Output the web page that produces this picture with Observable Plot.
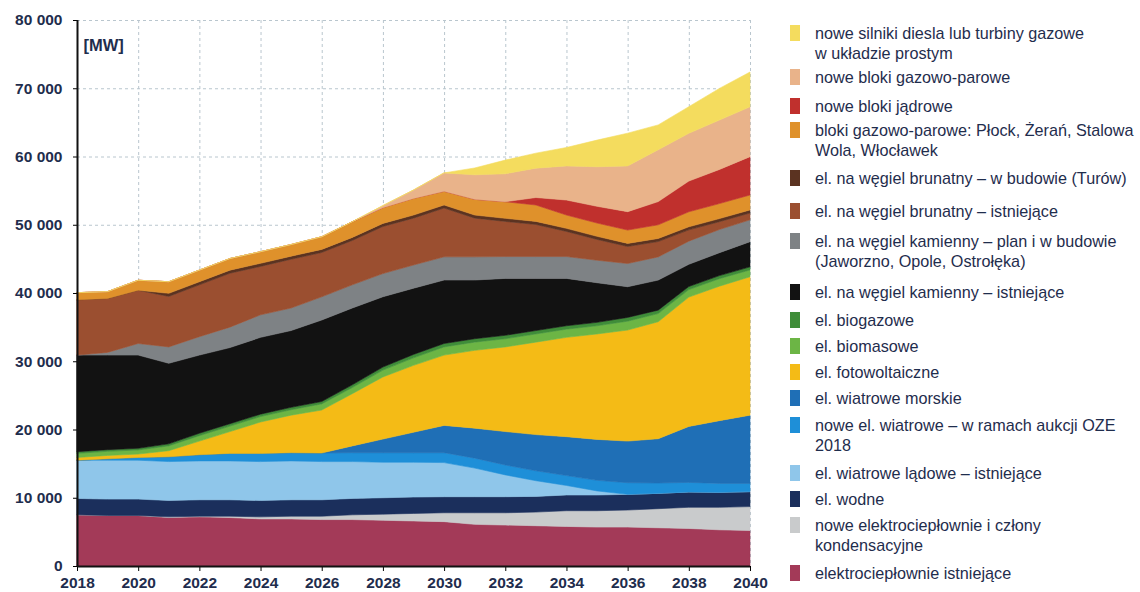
<!DOCTYPE html>
<html><head><meta charset="utf-8">
<script src="https://cdn.jsdelivr.net/npm/d3@7"></script>
<script src="https://cdn.jsdelivr.net/npm/@observablehq/plot@0.6"></script>
<style>
html,body{margin:0;padding:0;background:#fff;}
#wrap{position:relative;width:1140px;height:592px;font-family:"Liberation Sans",Arial,sans-serif;overflow:hidden;}
#chart{position:absolute;left:0;top:0;}
#legend{position:absolute;left:0;top:0;width:1140px;height:592px;color:#1f2d4d;font-size:16.2px;line-height:20px;}
.item{position:absolute;left:790px;display:flex;align-items:flex-start;}
.sw{width:10px;height:16px;flex:none;margin-top:2px;margin-right:15px;}
.lab{white-space:pre-line;}
</style></head><body>
<div id="wrap"><div id="chart"></div><div id="legend"></div></div>
<script>
// ---- data (MW), years 2018..2040 ----
const years = [2018,2019,2020,2021,2022,2023,2024,2025,2026,2027,2028,2029,2030,2031,2032,2033,2034,2035,2036,2037,2038,2039,2040];

const chpExisting = [7500,7400,7400,7100,7200,7100,6900,6900,6800,6800,6700,6600,6500,6100,6000,5900,5800,5700,5700,5600,5500,5300,5200];
const chpNew      = [0,0,0,100,100,200,300,400,500,700,900,1100,1300,1700,1800,2000,2300,2400,2500,2800,3100,3300,3500];
const hydro       = [2400,2400,2400,2400,2400,2400,2400,2400,2400,2400,2400,2400,2350,2350,2350,2300,2300,2300,2300,2250,2250,2200,2200];
const windOnshore = [5600,5700,5700,5700,5700,5700,5700,5700,5600,5400,5200,5100,5000,4200,3200,2300,1400,600,0,0,0,0,0];
const windAuction = [0,200,400,700,900,1100,1200,1200,1250,1300,1400,1400,1450,1450,1450,1450,1450,1550,1700,1500,1400,1300,1200];
const windOffshore= [0,0,0,0,0,0,0,0,0,1000,2000,3000,4000,4400,4900,5300,5700,6000,6100,6500,8200,9200,10000];
const solarPV     = [400,500,500,900,2000,3200,4600,5500,6300,7650,9100,9800,10300,11400,12400,13550,14550,15450,16270,17140,18950,19700,20280];
const biomass     = [600,600,600,700,800,800,800,800,900,900,1000,1100,1200,1200,1200,1200,1200,1200,1300,1200,1100,1100,1000];
const biogas      = [250,250,250,300,350,350,350,350,350,400,450,500,500,500,500,500,500,500,550,500,450,450,450];
const hardCoal    = [14150,13850,13650,11800,11450,11150,11250,11250,11940,11250,10300,9700,9300,8600,8340,7640,6940,5800,4500,4400,3250,3350,3690];
const hardCoalNew = [0,400,1700,2400,2700,3000,3300,3300,3400,3400,3400,3400,3400,3400,3200,3200,3200,3300,3400,3400,3400,3400,3200];
const lignite     = [8100,7900,7800,7400,7600,7900,7100,7150,6500,6500,6900,6870,7150,5670,5150,4700,3680,3050,2500,2250,1650,1150,1000];
const ligniteTurow= [0,0,0,450,450,450,450,450,450,450,450,450,450,450,450,450,450,450,450,450,450,450,450];
const ccgtExisting= [1050,1000,1470,1700,1700,1700,1700,1700,1850,2300,2300,2440,2000,2300,2430,2400,1950,1950,1950,2000,2200,2200,2190];
const nuclear     = [0,0,0,0,0,0,0,0,0,0,0,0,0,0,0,1100,2200,2450,2700,3400,4500,5000,5620];
const ccgtNew     = [0,0,0,0,0,0,0,0,0,0,300,1230,2700,3600,4100,4300,5000,5800,6700,7600,7000,7240,7300];
const dieselGT    = [0,0,0,0,0,0,0,0,0,0,0,0,0,1000,2000,2200,2700,3900,4800,3640,3900,4640,5100];

// series names, bottom -> top of the stack
const seriesNames = [
  "elektrociepłownie istniejące",
  "nowe elektrociepłownie i człony kondensacyjne",
  "el. wodne",
  "el. wiatrowe lądowe – istniejące",
  "nowe el. wiatrowe – w ramach aukcji OZE 2018",
  "el. wiatrowe morskie",
  "el. fotowoltaiczne",
  "el. biomasowe",
  "el. biogazowe",
  "el. na węgiel kamienny – istniejące",
  "el. na węgiel kamienny – plan i w budowie (Jaworzno, Opole, Ostrołęka)",
  "el. na węgiel brunatny – istniejące",
  "el. na węgiel brunatny – w budowie (Turów)",
  "bloki gazowo-parowe: Płock, Żerań, Stalowa Wola, Włocławek",
  "nowe bloki jądrowe",
  "nowe bloki gazowo-parowe",
  "nowe silniki diesla lub turbiny gazowe w układzie prostym"
];
const legendLabels = [
  "elektrociepłownie istniejące",
  "nowe elektrociepłownie i człony\nkondensacyjne",
  "el. wodne",
  "el. wiatrowe lądowe – istniejące",
  "nowe el. wiatrowe – w ramach aukcji OZE\n2018",
  "el. wiatrowe morskie",
  "el. fotowoltaiczne",
  "el. biomasowe",
  "el. biogazowe",
  "el. na węgiel kamienny – istniejące",
  "el. na węgiel kamienny – plan i w budowie\n(Jaworzno, Opole, Ostrołęka)",
  "el. na węgiel brunatny – istniejące",
  "el. na węgiel brunatny – w budowie (Turów)",
  "bloki gazowo-parowe: Płock, Żerań, Stalowa\nWola, Włocławek",
  "nowe bloki jądrowe",
  "nowe bloki gazowo-parowe",
  "nowe silniki diesla lub turbiny gazowe\nw układzie prostym"
];
const seriesColors = [
  "#a33a58", "#c9cbcc", "#1b2f5c", "#8fc6ea", "#1e8fd8", "#1f6fb6",
  "#f4bb16", "#6cb545", "#3f8d39", "#121212", "#7e8285", "#9b4f30",
  "#5b3321", "#df912b", "#c0302d", "#e9b38a", "#f4dc5e"
];
const seriesValues = [chpExisting, chpNew, hydro, windOnshore, windAuction, windOffshore, solarPV,
  biomass, biogas, hardCoal, hardCoalNew, lignite, ligniteTurow, ccgtExisting, nuclear, ccgtNew, dieselGT];

const xTicks = [2018,2020,2022,2024,2026,2028,2030,2032,2034,2036,2038,2040];
const yTicks = [0,10000,20000,30000,40000,50000,60000,70000,80000];

// legend layout: vertical centre of each entry's first line (px), same order as seriesNames
const legendLineY = [573, 525, 499, 473, 425, 398, 372, 346, 320, 292, 241, 211, 178, 130, 106, 77, 33];

// long table
const rows = [];
seriesNames.forEach((s, i) => years.forEach((yr, j) => rows.push({series: s, year: yr, value: seriesValues[i][j]})));

const fmtY = d => d3.format(",")(d).replace(/,/g, " ");
const txt = "#1f2d4d";

const chart = Plot.plot({
  width: 770, height: 592,
  marginLeft: 77, marginRight: 20, marginTop: 20, marginBottom: 26,
  style: {fontFamily: "'Liberation Sans', Arial, sans-serif", background: "white", overflow: "visible"},
  x: {domain: [2018, 2040]},
  y: {domain: [0, 80000]},
  color: {domain: seriesNames, range: seriesColors},
  marks: [
    Plot.gridY(yTicks, {stroke: "#b9c6ce", strokeOpacity: 1, strokeDasharray: "3,3"}),
    Plot.gridX(xTicks, {stroke: "#b9c6ce", strokeOpacity: 1, strokeDasharray: "3,3"}),
    Plot.areaY(rows, {x: "year", y: "value", z: "series", fill: "series", stroke: "series", strokeWidth: 0.6, order: seriesNames}),
    Plot.axisX(xTicks, {tickFormat: d => String(d), fontSize: 15.5, fontWeight: "bold", fill: txt, tickSize: 5, tickPadding: 5, label: null}),
    Plot.axisY(yTicks, {tickFormat: fmtY, fontSize: 15.5, fontWeight: "bold", fill: txt, tickSize: 4, tickPadding: 11, label: null}),
    Plot.ruleX([2018], {stroke: "#111", strokeWidth: 2}),
    Plot.ruleY([0], {stroke: "#111", strokeWidth: 2}),
    Plot.text(["[MW]"], {frameAnchor: "top-left", dx: 6, dy: 19, fontSize: 16.5, fontWeight: "bold", fill: txt, textAnchor: "start"})
  ]
});
document.getElementById("chart").appendChild(chart);

// legend (top -> bottom = top of stack -> bottom)
const legend = document.getElementById("legend");
for (let i = seriesNames.length - 1; i >= 0; i--) {
  const it = document.createElement("div");
  it.className = "item";
  it.style.top = (legendLineY[i] - 10) + "px";
  const sw = document.createElement("div");
  sw.className = "sw";
  sw.style.background = seriesColors[i];
  const lab = document.createElement("div");
  lab.className = "lab";
  lab.textContent = legendLabels[i];
  it.appendChild(sw); it.appendChild(lab);
  legend.appendChild(it);
}
</script></body></html>
